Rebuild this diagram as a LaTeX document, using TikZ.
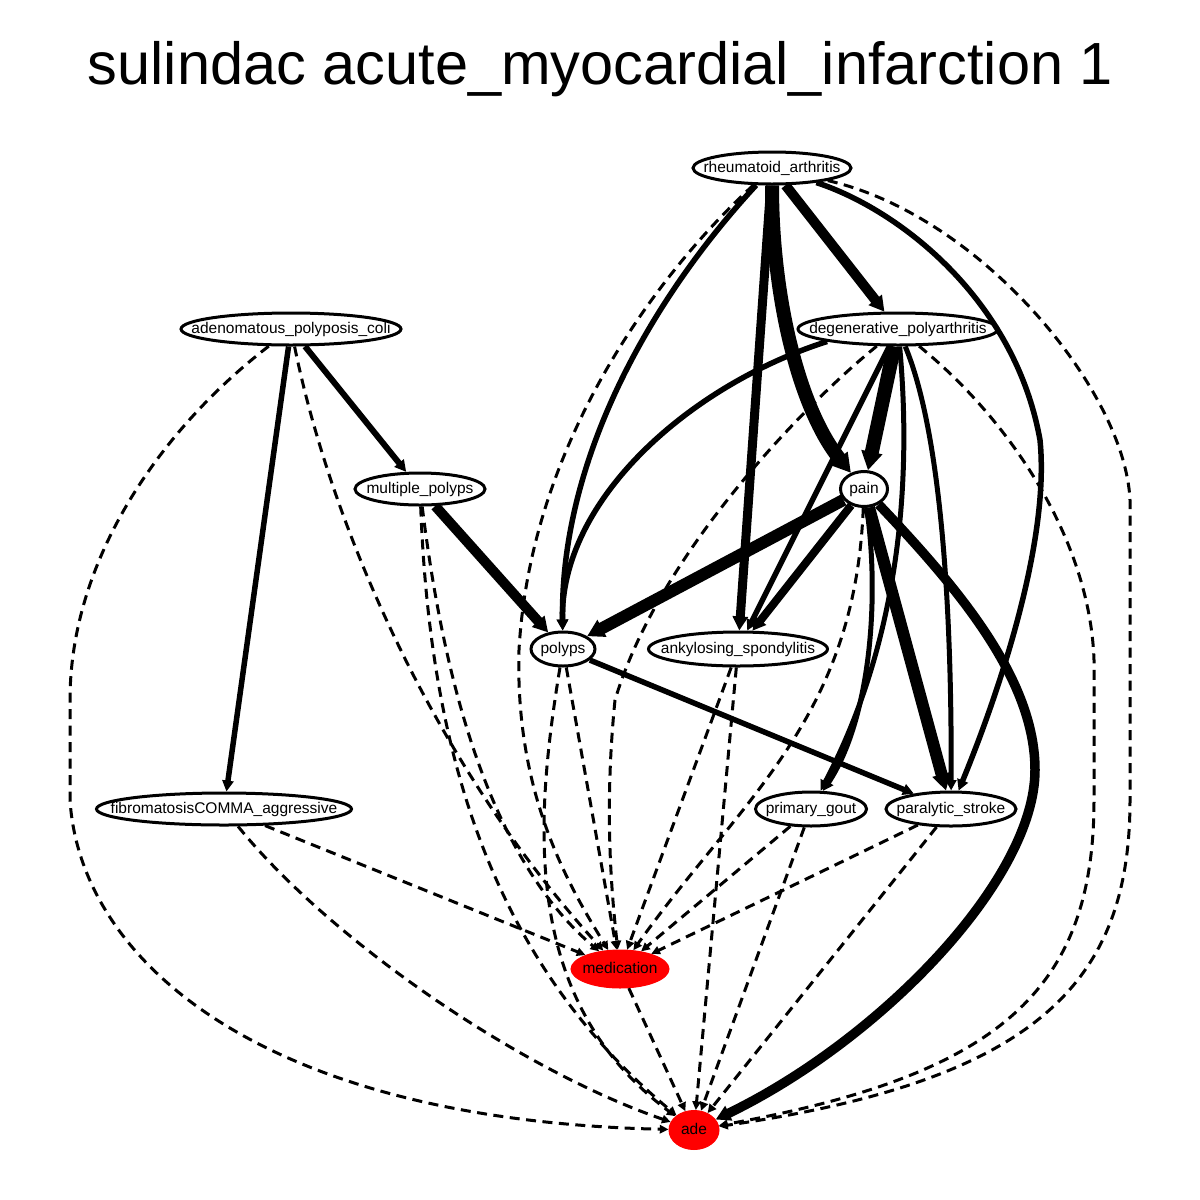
\documentclass[tikz,border=0pt]{standalone}
\usepackage{fontspec}
\setmainfont{Liberation Sans}
\usetikzlibrary{shapes.geometric,arrows.meta}
\begin{document}
\begin{tikzpicture}[x=1pt,y=-1pt,
  nd/.style={ellipse, draw=black, line width=3pt, fill=white, inner sep=0pt},
  rednd/.style={nd, draw=red, fill=red, line width=1pt},
  every label/.style={inner sep=0pt, font=\fontsize{15.5}{16}\selectfont, text height=11.2pt, text depth=3.2pt},
  sol/.style={-{Triangle[length=6pt 0.9, width=5pt 1.1]}, line width=#1},
  dsh/.style={-{Triangle[length=6pt 0.9, width=5pt 1.1]}, line width=3pt, dash pattern=on 10pt off 6.5pt},
]
\useasboundingbox (0,0) rectangle (1200,1200);
\node[anchor=base, font=\fontsize{59.5}{60}\selectfont] (title) at (600.5,84) {sulindac acute\_myocardial\_infarction 1};

\node[nd, minimum width=158pt, minimum height=32pt, label={center:rheumatoid\_arthritis}] (RA) at (772,168) {};
\node[nd, minimum width=220pt, minimum height=32pt, label={center:adenomatous\_polyposis\_coli}] (APC) at (291,329) {};
\node[nd, minimum width=200pt, minimum height=32pt, label={center:degenerative\_polyarthritis}] (DP) at (898,329) {};
\node[nd, minimum width=130pt, minimum height=32pt, label={center:multiple\_polyps}] (MP) at (420,489) {};
\node[nd, minimum width=47pt, minimum height=35pt, label={center:pain}] (pain) at (864,489) {};
\node[nd, minimum width=64pt, minimum height=34pt, label={center:polyps}] (polyps) at (563,649) {};
\node[nd, minimum width=179pt, minimum height=34pt, label={center:ankylosing\_spondylitis}] (AS) at (738,649) {};
\node[nd, minimum width=255pt, minimum height=32pt, label={center:fibromatosisCOMMA\_aggressive}] (FA) at (224,809) {};
\node[nd, minimum width=111pt, minimum height=34pt, label={center:primary\_gout}] (PG) at (811,809) {};
\node[nd, minimum width=130pt, minimum height=34pt, label={center:paralytic\_stroke}] (PS) at (951,809) {};
\node[rednd, minimum width=98pt, minimum height=38pt, label={center:medication}] (med) at (620,969) {};
\node[rednd, minimum width=50pt, minimum height=39pt, label={center:ade}] (ade) at (694,1130) {};

% rheumatoid_arthritis
\draw[sol=10pt] (RA) -- (DP);
\draw[sol=14pt] (RA) .. controls (772,300) and (800,410) .. (pain);
\draw[sol=9pt] (RA) -- (AS);
\draw[sol=5.5pt] (RA) .. controls (650,300) and (560,460) .. (polyps);
\draw[sol=5.5pt] (RA) .. controls (900,210) and (1015,300) .. (1040,440) .. controls (1050,540) and (1000,690) .. (PS);
\draw[dsh] (RA) .. controls (650,280) and (530,450) .. (519,650) .. controls (515,790) and (565,880) .. (med);
\draw[dsh] (RA) .. controls (980,215) and (1125,390) .. (1130,500) -- (1130,800) .. controls (1130,980) and (1040,1080) .. (ade);

% adenomatous_polyposis_coli
\draw[sol=6pt] (APC) -- (MP);
\draw[sol=5.5pt] (APC) -- (FA);
\draw[dsh] (APC) .. controls (330,520) and (430,760) .. (med);
\draw[dsh] (APC) .. controls (160,430) and (70,560) .. (70,700) -- (70,800) .. controls (80,960) and (260,1120) .. (ade);

% degenerative_polyarthritis
\draw[sol=14pt] (DP) -- (pain);
\draw[sol=5.5pt] (DP.-170) .. controls (690,385) and (560,500) .. (polyps);
\draw[sol=5.5pt] (DP) -- (AS);
\draw[sol=5pt] (DP) .. controls (912,480) and (900,640) .. (PG);
\draw[sol=5pt] (DP) .. controls (940,430) and (952,600) .. (PS);
\draw[dsh] (DP) .. controls (810,400) and (660,550) .. (615,700) .. controls (605,800) and (610,880) .. (med);
\draw[dsh] (DP) .. controls (1010,420) and (1090,540) .. (1094,660) -- (1094,800) .. controls (1094,990) and (1000,1075) .. (ade);

% multiple_polyps
\draw[sol=10pt] (MP) -- (polyps);
\draw[dsh] (MP) .. controls (440,650) and (480,850) .. (med);
\draw[dsh] (MP) .. controls (430,750) and (490,960) .. (ade);

% pain
\draw[sol=12pt] (pain) -- (polyps);
\draw[sol=8pt] (pain) -- (AS);
\draw[sol=5pt] (pain) .. controls (880,600) and (870,720) .. (PG);
\draw[sol=12pt] (pain) -- (PS);
\draw[sol=9.5pt] (pain) .. controls (960,590) and (1035,680) .. (1035,770) .. controls (1035,880) and (880,1040) .. (ade);
\draw[dsh] (pain) .. controls (855,720) and (740,800) .. (med);

% polyps
\draw[sol=5.5pt] (polyps) -- (PS);
\draw[dsh] (polyps) -- (med);
\draw[dsh] (polyps) .. controls (535,820) and (520,1000) .. (ade);

% others
\draw[dsh] (AS) -- (med);
\draw[dsh] (AS) -- (ade);
\draw[dsh] (FA) -- (med);
\draw[dsh] (FA) .. controls (330,940) and (520,1070) .. (ade);
\draw[dsh] (PG) -- (med);
\draw[dsh] (PG) -- (ade);
\draw[dsh] (PS) -- (med);
\draw[dsh] (PS) -- (ade);
\draw[dsh] (med) -- (ade);
\end{tikzpicture}
\end{document}
